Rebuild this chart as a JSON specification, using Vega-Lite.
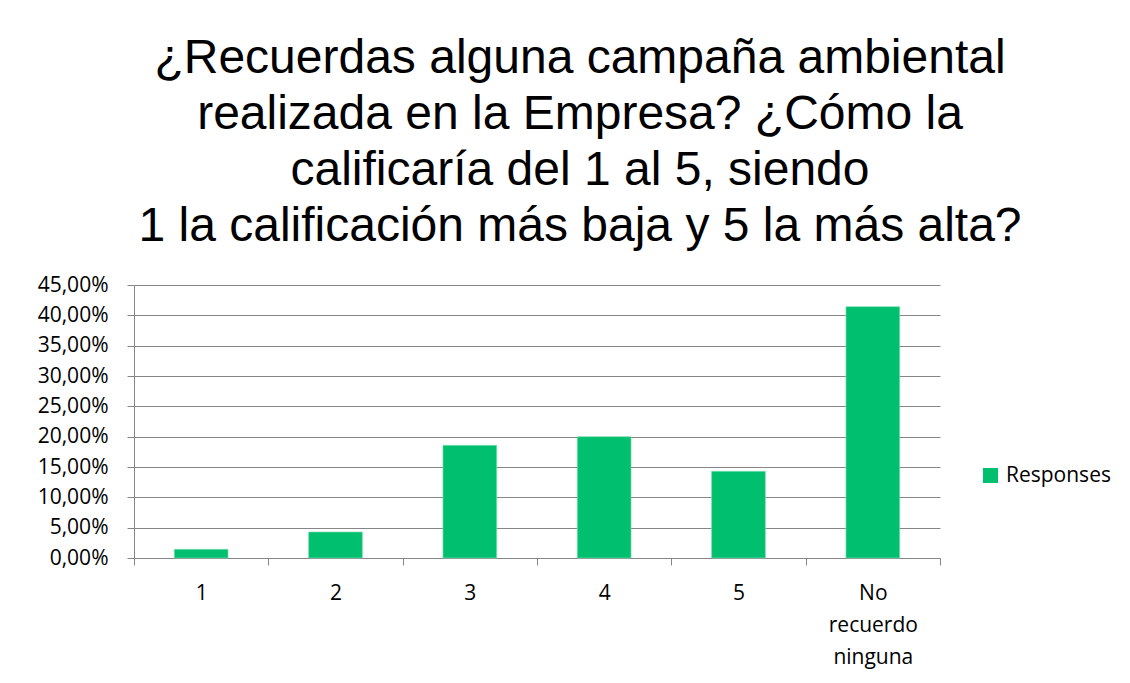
{
  "$schema": "https://vega.github.io/schema/vega-lite/v6.json",
  "width": 806,
  "height": 273,
  "autosize": {"type": "none"},
  "padding": {"left": 134, "top": 285, "right": 190, "bottom": 125},
  "background": "white",
  "title": {
    "text": ["¿Recuerdas alguna campaña ambiental", "realizada en la Empresa? ¿Cómo la", "calificaría del 1 al 5, siendo", "1 la calificación más baja y 5 la más alta?"],
    "font": "Liberation Sans",
    "fontSize": 48,
    "fontWeight": "normal",
    "color": "#000000",
    "lineHeight": 56,
    "anchor": "middle",
    "frame": "group",
    "baseline": "bottom",
    "dx": 43,
    "offset": -25
  },
  "data": {
    "values": [
      {"option": "1", "pct": 0.0143, "series": "Responses"},
      {"option": "2", "pct": 0.0429, "series": "Responses"},
      {"option": "3", "pct": 0.1857, "series": "Responses"},
      {"option": "4", "pct": 0.2000, "series": "Responses"},
      {"option": "5", "pct": 0.1429, "series": "Responses"},
      {"option": "No recuerdo ninguna", "pct": 0.4143, "series": "Responses"}
    ]
  },
  "mark": {"type": "bar", "width": {"band": 0.4}, "stroke": "#7ddcb0", "strokeWidth": 0.7},
  "encoding": {
    "x": {
      "field": "option",
      "type": "nominal",
      "sort": null,
      "scale": {"paddingInner": 0, "paddingOuter": 0},
      "axis": {
        "title": null,
        "labelAngle": 0,
        "labelFont": "Open Sans",
        "labelFontSize": 21,
        "labelColor": "#000000",
        "labelExpr": "split(datum.label, ' ')",
        "labelLineHeight": 32,
        "labelPadding": 17,
        "tickBand": "extent",
        "tickSize": 7,
        "tickColor": "#868686",
        "domainColor": "#868686",
        "grid": false
      }
    },
    "y": {
      "field": "pct",
      "type": "quantitative",
      "scale": {"domain": [0, 0.45]},
      "axis": {
        "title": null,
        "values": [0, 0.05, 0.1, 0.15, 0.2, 0.25, 0.3, 0.35, 0.4, 0.45],
        "labelExpr": "replace(format(datum.value, '.2%'), '.', ',')",
        "labelFont": "Open Sans",
        "labelFontSize": 21,
        "labelColor": "#000000",
        "labelPadding": 19,
        "tickSize": 7,
        "tickColor": "#868686",
        "domainColor": "#868686",
        "gridColor": "#868686",
        "gridWidth": 1
      }
    },
    "color": {
      "field": "series",
      "type": "nominal",
      "scale": {"range": ["#00BF6F"]},
      "legend": {
        "title": null,
        "orient": "none",
        "legendX": 846,
        "legendY": 180,
        "symbolType": "square",
        "symbolSize": 225,
        "symbolStrokeWidth": 0,
        "labelFont": "Open Sans",
        "labelFontSize": 21,
        "labelColor": "#000000",
        "labelOffset": 5
      }
    }
  },
  "config": {"view": {"stroke": null}}
}
